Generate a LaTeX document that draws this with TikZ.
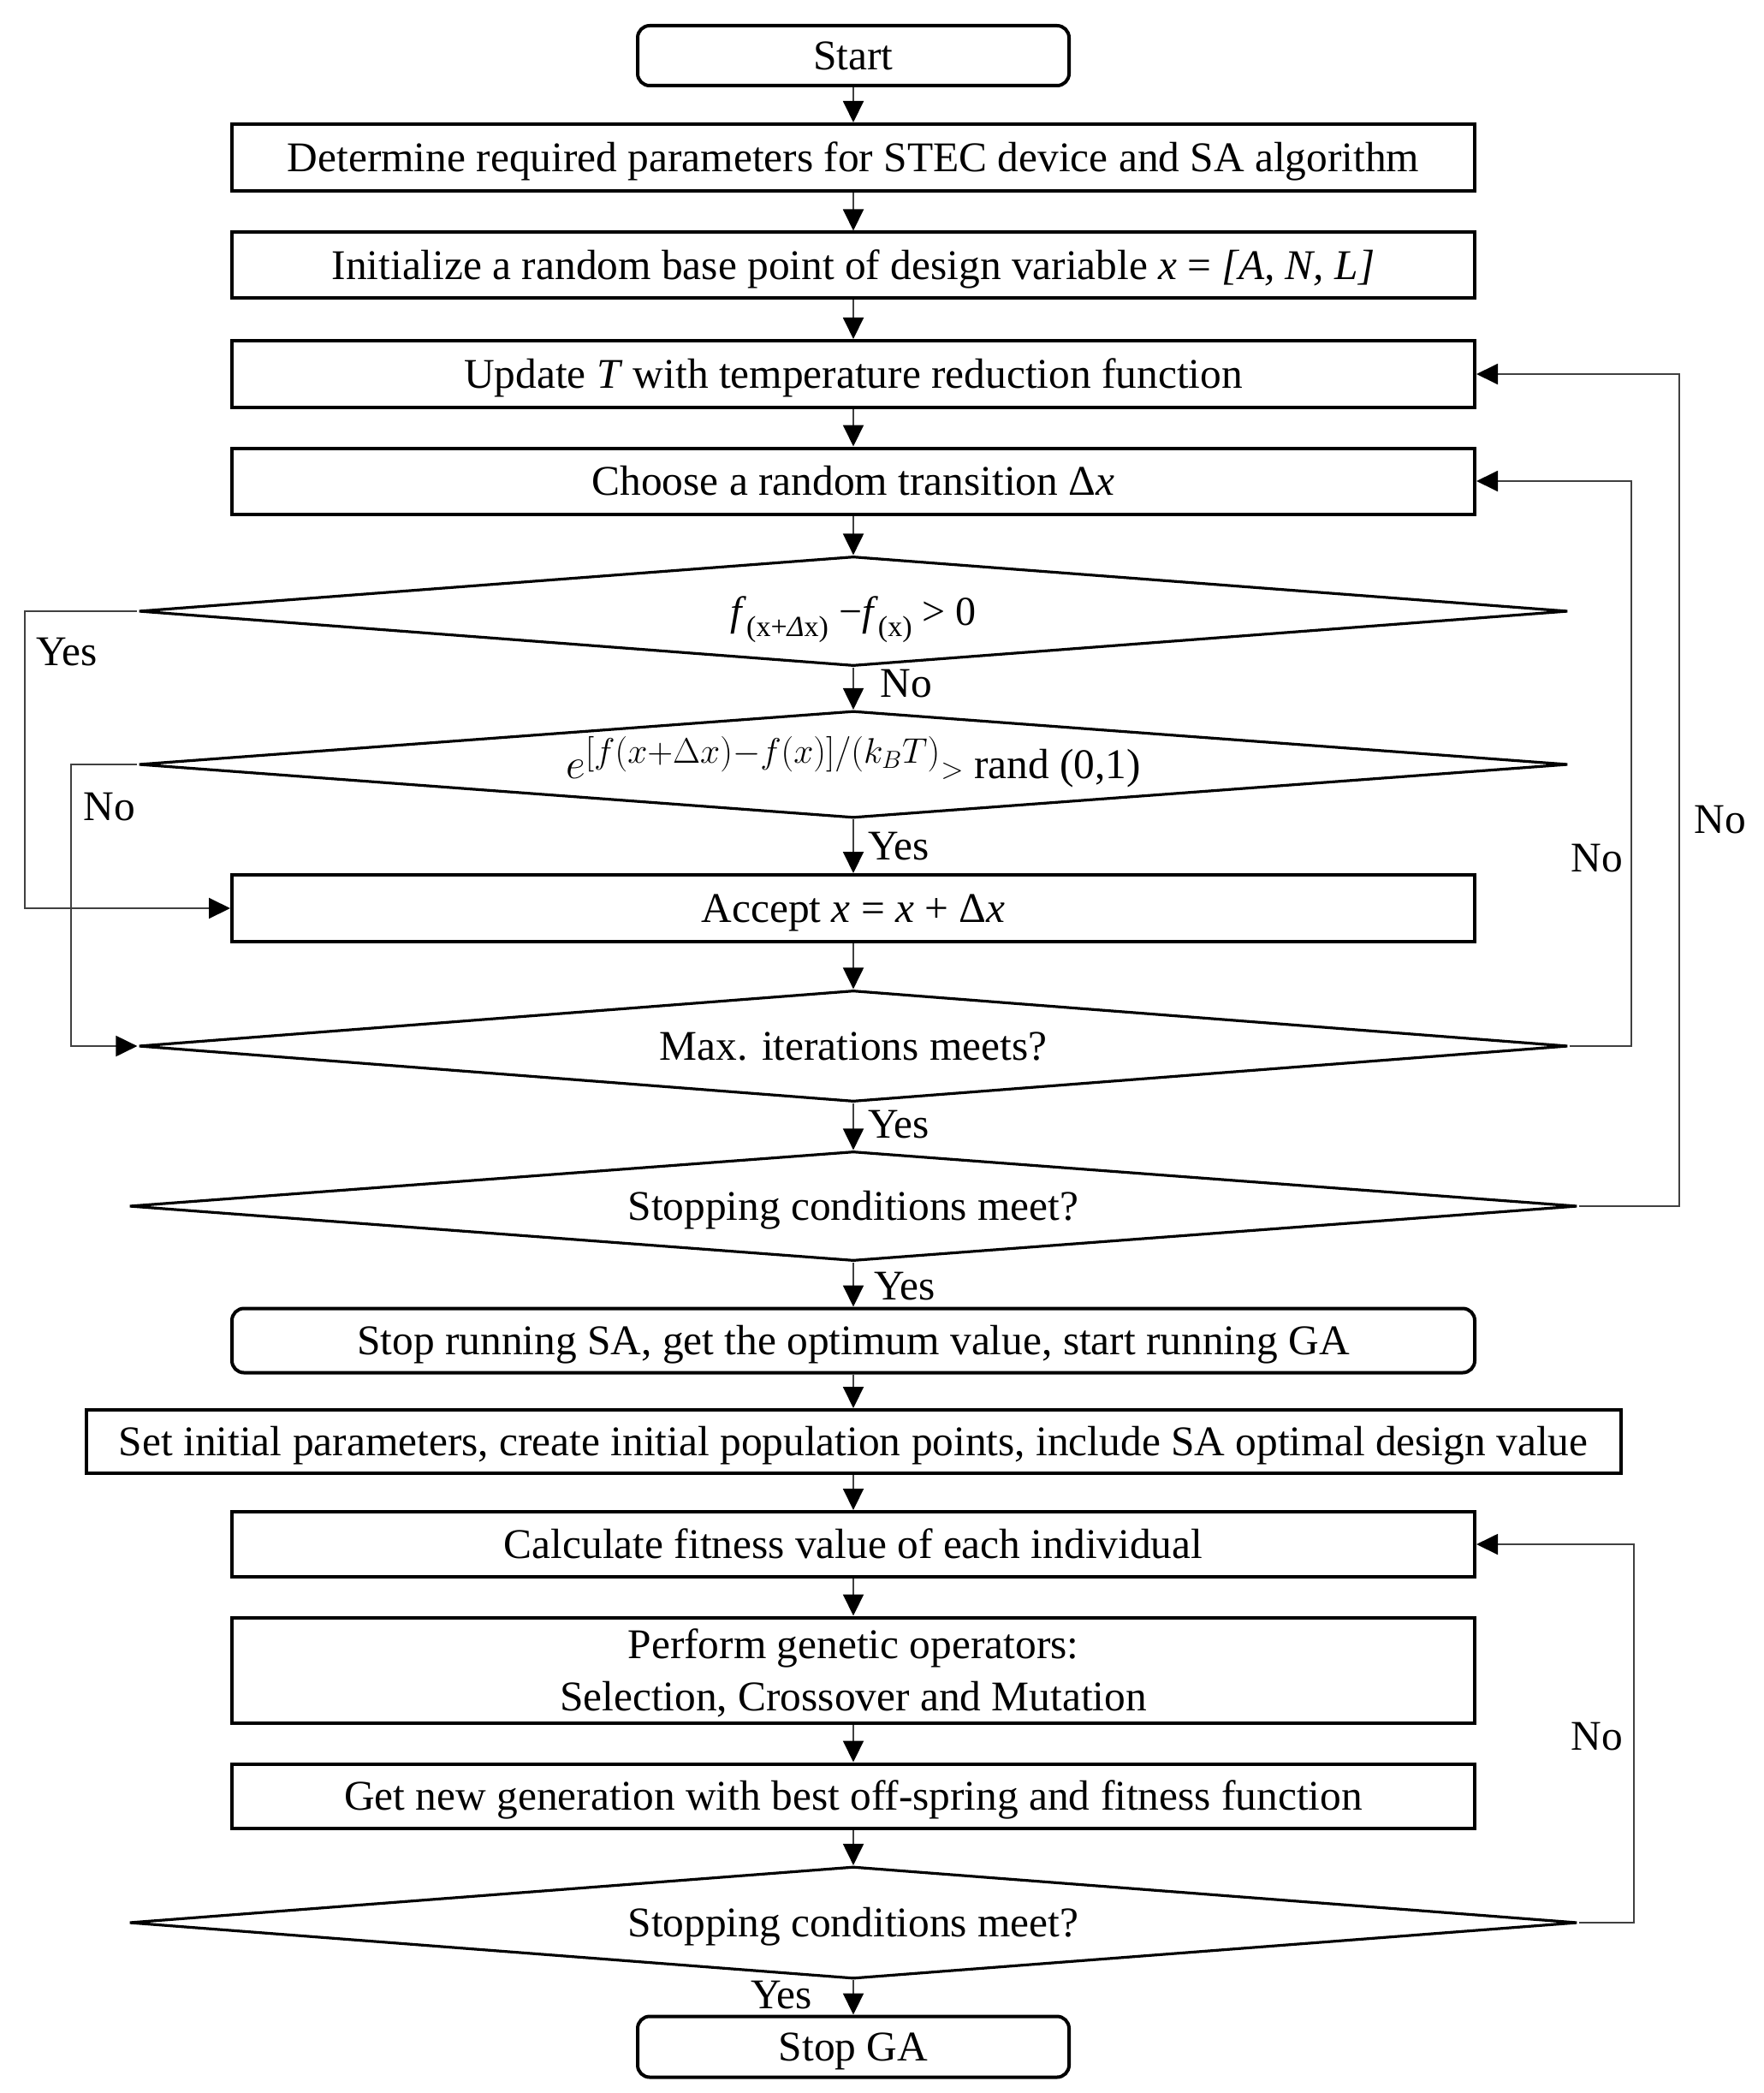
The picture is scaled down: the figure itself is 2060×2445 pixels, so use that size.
\documentclass[tikz,border=0pt]{standalone}
\usepackage{fontspec}
\setmainfont{Liberation Serif}
\usetikzlibrary{shapes.geometric,arrows.meta}
\begin{document}
\begin{tikzpicture}[x=0.5pt,y=-0.5pt,
  font=\fontsize{24.7}{30.5}\selectfont,
  box/.style={draw, line width=2pt, minimum width=726pt, minimum height=39pt, inner sep=0pt, align=center, text height=16.4pt, text depth=0pt},
  term/.style={box, rounded corners=7pt},
  dec/.style={draw, diamond, aspect=13, line width=1.6pt, inner sep=0pt, minimum width=835pt, minimum height=64pt, text height=16.4pt, text depth=0pt},
  conn/.style={draw=black!75, line width=1pt, -{Triangle[length=12.5pt,width=12pt,color=black]}},
  lab/.style={inner sep=0pt}]
\useasboundingbox (0,0) rectangle (2060,2445);
% SA part
\node[term, minimum width=252pt, minimum height=35pt] (start) at (997,65) {Start};
\node[box] (b1) at (997,184) {Determine required parameters for STEC device and SA algorithm};
\node[box, minimum height=38.5pt] (b2) at (997,310) {Initialize a random base point of design variable \textit{x} = \textit{[A, N, L]}};
\node[box] (b3) at (997,437) {Update \textit{T} with temperature reduction function};
\node[box, minimum height=38.5pt] (b4) at (997,562) {Choose a random transition Δ\textit{x}};
\node[dec] (d1) at (997,714) {\fontsize{24}{24}\selectfont\textit{f}\raisebox{-6.5pt}{\fontsize{17}{17}\selectfont (x+\textit{Δ}x)} −\textit{f}\raisebox{-6.5pt}{\fontsize{17}{17}\selectfont (x)} > 0};
\node[dec, minimum height=62.5pt] (d2) at (997,893) {{\fontsize{28}{28}\selectfont$e^{[f(x+\Delta x)-f(x)]/(k_BT)}$}{\fontsize{19}{19}\selectfont$>$} rand (0,1)};
\node[box] (acc) at (997,1061) {Accept \textit{x} = \textit{x} + Δ\textit{x}};
\node[dec, minimum height=65pt] (d3) at (997,1222) {Max. iterations meets?};
\node[dec, minimum width=846pt] (d4) at (997,1409) {Stopping conditions meet?};
% GA part
\node[term, minimum height=37.5pt] (sa) at (997,1566) {Stop running SA, get the optimum value, start running GA};
\node[box, minimum width=896.5pt, minimum height=37pt] (ga1) at (997,1684) {Set initial parameters, create initial population points, include SA optimal design value};
\node[box, minimum height=38pt] (ga2) at (997,1804) {Calculate fitness value of each individual};
\node[box, minimum height=61.5pt, text height=, text depth=0pt] (ga3) at (997,1951) {Perform genetic operators:\\Selection, Crossover and Mutation};
\node[box, minimum height=37.5pt] (ga4) at (997,2098) {Get new generation with best off-spring and fitness function};
\node[dec, minimum width=846pt, minimum height=65.5pt] (d5) at (997,2246) {Stopping conditions meet?};
\node[term, minimum width=252pt, minimum height=35.5pt] (stop) at (997,2391) {Stop GA};
% labels
\node[lab] (lno1) at (1059,799) {No};
\node[lab] (lyes2) at (1050,989) {Yes};
\node[lab] (lyes3) at (1050,1314) {Yes};
\node[lab] (lyes4) at (1057,1503) {Yes};
\node[lab] (lyes5) at (913,2331) {Yes};
\node[lab] (lyes1) at (78,762) {Yes};
\node[lab] (lno2) at (128,943) {No};
\node[lab] (lno3) at (1866,1003) {No};
\node[lab] (lno4) at (2010,958) {No};
\node[lab] (lno5) at (1866,2029) {No};
% corner points
\coordinate (c1) at (29,714);
\coordinate (c2) at (83,893);
\coordinate (c3) at (1906,1222);
\coordinate (c4) at (1962,1409);
\coordinate (c5) at (1909,2246);
% connectors
\draw[conn] (start.south) -- (b1.north);
\draw[conn] (b1.south) -- (b2.north);
\draw[conn] (b2.south) -- (b3.north);
\draw[conn] (b3.south) -- (b4.north);
\draw[conn] (b4.south) -- (d1.north);
\draw[conn] (d1.south) -- (d2.north);
\draw[conn] (d2.south) -- (acc.north);
\draw[conn] (acc.south) -- (d3.north);
\draw[conn] (d3.south) -- (d4.north);
\draw[conn] (d4.south) -- (sa.north);
\draw[conn] (sa.south) -- (ga1.north);
\draw[conn] (ga1.south) -- (ga2.north);
\draw[conn] (ga2.south) -- (ga3.north);
\draw[conn] (ga3.south) -- (ga4.north);
\draw[conn] (ga4.south) -- (d5.north);
\draw[conn] (d5.south) -- (stop.north);
\draw[conn] (d1.west) -- (c1) |- (acc.west);
\draw[conn] (d2.west) -- (c2) |- (d3.west);
\draw[conn] (d3.east) -- (c3) |- (b4.east);
\draw[conn] (d4.east) -- (c4) |- (b3.east);
\draw[conn] (d5.east) -- (c5) |- (ga2.east);
\end{tikzpicture}
\end{document}
